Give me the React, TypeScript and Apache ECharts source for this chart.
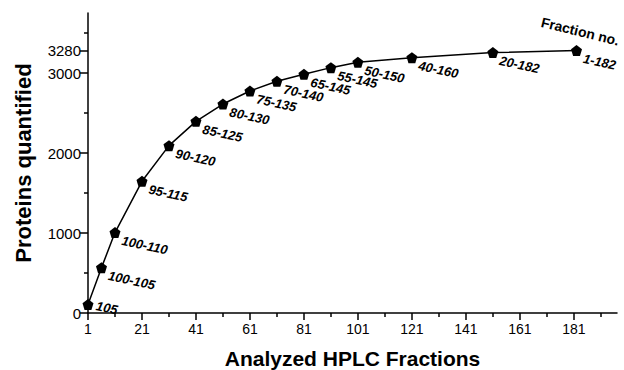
import React, { useEffect, useRef } from "react";
import * as echarts from "echarts";

const fractionsAnalyzed = [1, 6, 11, 21, 31, 41, 51, 61, 71, 81, 91, 101, 121, 151, 182];
const proteinsQuantified = [105, 567, 1005, 1646, 2092, 2396, 2612, 2775, 2896, 2984, 3067, 3134, 3192, 3255, 3280];
const fractionRanges = ["105", "100-105", "100-110", "95-115", "90-120", "85-125", "80-130", "75-135", "70-140", "65-145", "55-145", "50-150", "40-160", "20-182", "1-182"];
const xMajorTicks = [1, 21, 41, 61, 81, 101, 121, 141, 161, 181];
const xMinorTicks = [11, 31, 51, 71, 91, 111, 131, 151, 171, 191];
const yMajorTicks = [0, 1000, 2000, 3000, 3280];
const yMinorTicks = [500, 1500, 2500, 3500];

const FONT = "'Liberation Sans', Arial, Helvetica, sans-serif";
const PENTAGON = "path://M5,0 L10,3.8 L8.1,10 L1.9,10 L0,3.8 Z";

export default function App() {
  const ref = useRef<HTMLDivElement>(null);
  useEffect(() => {
    if (!ref.current) return;
    const chart = echarts.init(ref.current, null, { renderer: "svg" });
    const axisLine = { show: true, lineStyle: { color: "#000", width: 1.5 } };
    const seriesData = fractionsAnalyzed.map((x, i) =>
      i === 0
        ? { value: [x, proteinsQuantified[i]], label: { offset: [0, 1] } }
        : { value: [x, proteinsQuantified[i]] }
    );
    chart.setOption({
      animation: false,
      backgroundColor: "#fff",
      grid: { left: 88, right: 7, top: 13, bottom: 57, outerBoundsMode: "none", containLabel: false },
      xAxis: [
        {
          type: "value",
          min: 1,
          max: 197,
          axisLine,
          splitLine: { show: false },
          axisTick: { show: true, customValues: xMajorTicks, length: 7, lineStyle: { color: "#000", width: 1.5 } },
          axisLabel: { customValues: xMajorTicks, color: "#000", fontSize: 14, fontFamily: FONT, margin: 9, formatter: (v: number) => String(v) },
          name: "Analyzed HPLC Fractions",
          nameLocation: "middle",
          nameGap: 35,
          nameTextStyle: { color: "#000", fontSize: 21, fontWeight: "bold", fontFamily: FONT },
        },
        {
          type: "value",
          min: 1,
          max: 197,
          position: "bottom",
          axisLine: { show: false },
          splitLine: { show: false },
          axisTick: { show: true, customValues: xMinorTicks, length: 4, lineStyle: { color: "#000", width: 1.5 } },
          axisLabel: { show: false },
        },
      ],
      yAxis: [
        {
          type: "value",
          min: 0,
          max: 3750,
          axisLine,
          splitLine: { show: false },
          axisTick: { show: true, customValues: yMajorTicks, length: 8, lineStyle: { color: "#000", width: 1.5 } },
          axisLabel: { customValues: yMajorTicks, color: "#000", fontSize: 15, fontFamily: FONT, margin: 7, formatter: (v: number) => String(v) },
          name: "Proteins quantified",
          nameLocation: "middle",
          nameGap: 54,
          nameTextStyle: { color: "#000", fontSize: 22, fontWeight: "bold", fontFamily: FONT },
        },
        {
          type: "value",
          min: 0,
          max: 3750,
          position: "left",
          axisLine: { show: false },
          splitLine: { show: false },
          axisTick: { show: true, customValues: yMinorTicks, length: 4, lineStyle: { color: "#000", width: 1.5 } },
          axisLabel: { show: false },
        },
      ],
      graphic: [
        {
          type: "text",
          x: 543,
          y: 15,
          rotation: -0.24,
          style: { text: "Fraction no.", fill: "#000", font: `bold 14px ${FONT}` },
        },
      ],
      series: [
        {
          type: "line",
          data: seriesData,
          symbol: PENTAGON,
          symbolSize: 11,
          lineStyle: { color: "#000", width: 1.5 },
          itemStyle: { color: "#000" },
          label: {
            show: true,
            position: "right",
            distance: 3,
            rotate: -12,
            offset: [0, 8],
            align: "left",
            verticalAlign: "middle",
            color: "#000",
            fontSize: 13,
            fontWeight: "bold",
            fontStyle: "italic",
            fontFamily: FONT,
            formatter: (p: any) => fractionRanges[p.dataIndex],
          },
        },
      ],
    });
    return () => chart.dispose();
  }, []);
  return <div ref={ref} style={{ width: 624, height: 370, position: "absolute", left: 0, top: 0 }} />;
}
